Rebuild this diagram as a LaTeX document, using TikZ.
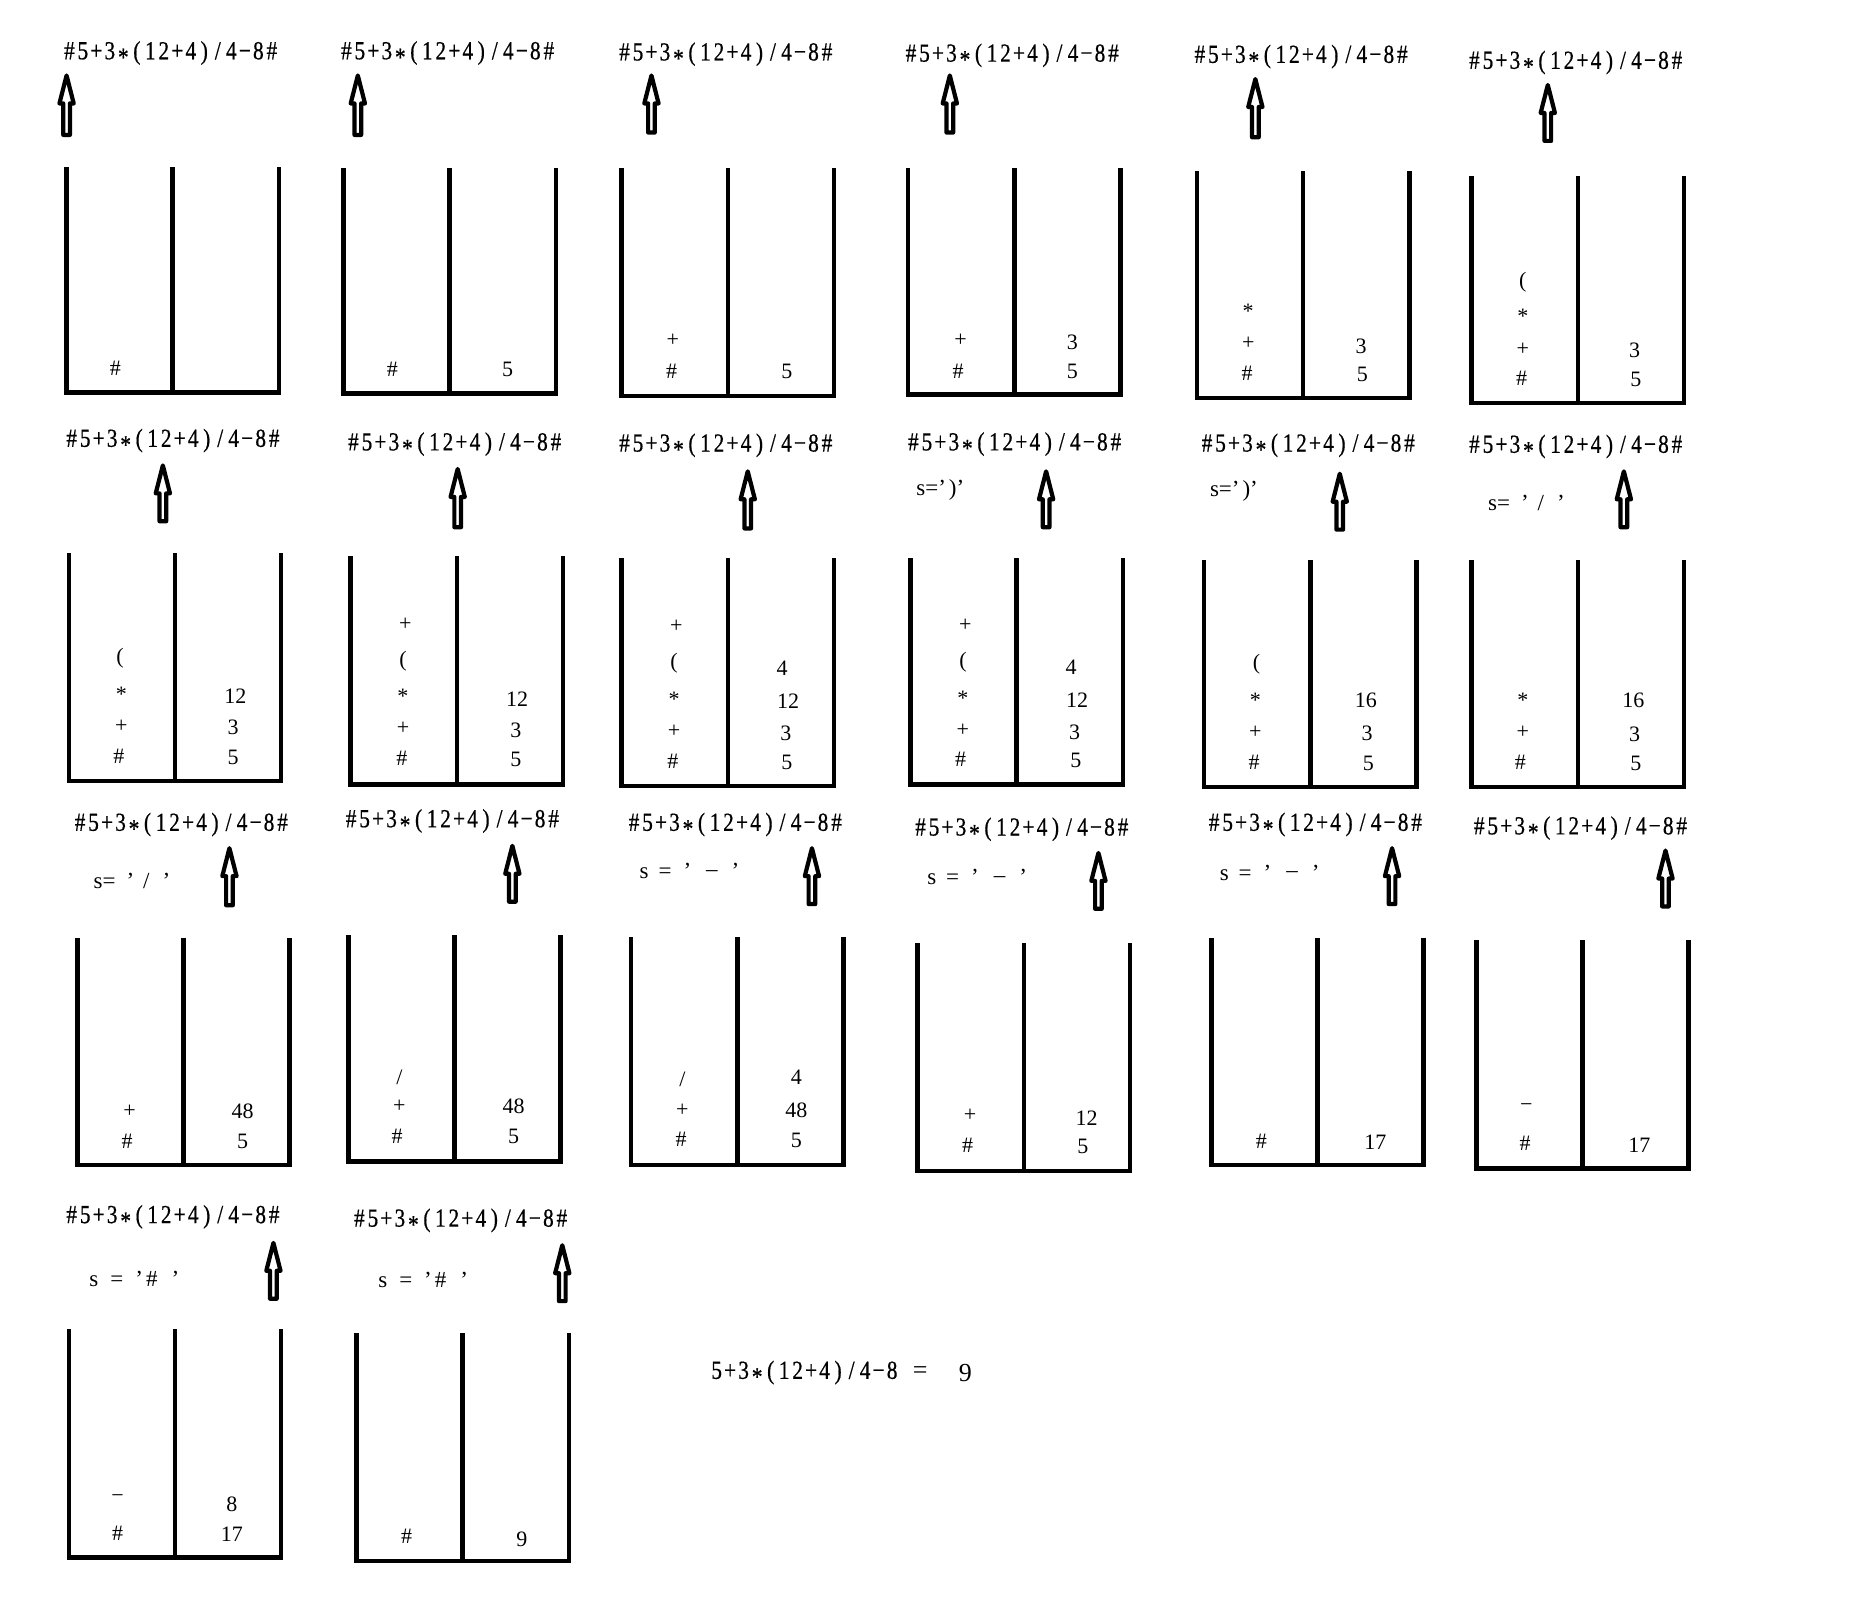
\documentclass[tikz,border=0pt]{standalone}
\usepackage{fontspec}
\setmainfont{Liberation Serif}
\newlength\chw \setlength\chw{13.5pt}
\newcommand\cb[1]{\makebox[\chw]{\scalebox{0.82}[1]{#1}}}
\newcommand\myast{\raisebox{-0.25em}{*}}
\newcommand\mymin{−}
\newcommand\myexpr{\addfontfeature{FakeBold=0.6}\cb{\#}\cb{5}\cb{+}\cb{3}\cb{\myast}\cb{(}\cb{1}\cb{2}\cb{+}\cb{4}\cb{)}\cb{/}\cb{4}\cb{\mymin}\cb{8}\cb{\#}}
\newcommand\myres{\addfontfeature{FakeBold=0.6}\cb{5}\cb{+}\cb{3}\cb{\myast}\cb{(}\cb{1}\cb{2}\cb{+}\cb{4}\cb{)}\cb{/}\cb{4}\cb{\mymin}\cb{8}}
\newcommand\lparen{s=’\hspace{3pt})’}
\newcommand\lslash{s=\hspace{11pt}’\hspace{9pt}/\hspace{13pt}’}
\newcommand\lminus{s\hspace{10pt}=\hspace{12pt}’\hspace{15pt}\raisebox{0.12em}{–}\hspace{14pt}’}
\newcommand\lhash{s\hspace{12pt}=\hspace{12pt}’\hspace{3pt}\#\hspace{14pt}’}
\newcounter{itmc}
\newcounter{pnl}
\tikzset{
  wall/.style={line width=4.5pt, line cap=rect},
  exprtxt/.style={font=\fontsize{26}{26}\selectfont, inner sep=0pt},
  item/.style={font=\fontsize{22}{22}\selectfont, inner sep=0pt},
  slabel/.style={font=\fontsize{23}{23}\selectfont, inner sep=0pt},
  ptr/.style={line width=4.2pt, fill=white, line join=round},
}
% panel: xL, top, bottom, expr y
\newcommand\drawpanel[4]{%
  \stepcounter{pnl}%
  \draw[wall] (#1,#2) -- (#1,#3) -- (#1+178.5,#3) -- (#1+178.5,#2);
  \draw[wall] (#1+89.25,#2) -- (#1+89.25,#3);
  \node[exprtxt] (e\thepnl) at (#1+87.5,#4) {\myexpr};
}
% arrow: x, tip y, bottom y
\newcommand\ptrarrow[3]{%
  \draw[ptr] (#1,#2+1.5) -- (#1+6,#2+25) -- (#1+2.8,#2+25) -- (#1+2.8,#3-1.5) -- (#1-2.8,#3-1.5) -- (#1-2.8,#2+25) -- (#1-6,#2+25) -- cycle;
}
\newcommand\stkitem[3]{\stepcounter{itmc}\node[item] (i\theitmc) at (#1,#2) {#3};}
\newcommand\slab[3]{\stepcounter{itmc}\node[slabel] (s\theitmc) at (#1,#2) {#3};}
\begin{document}
\begin{tikzpicture}[x=1.18878pt, y=-1.18878pt]
\useasboundingbox (0,0) rectangle (1568,1349);
% ---------- Row 1
\drawpanel{56}{142}{330}{45}
\ptrarrow{56}{62}{115}
\stkitem{97}{310}{\#}

\drawpanel{289}{143}{331}{45}
\ptrarrow{301}{62}{115}
\stkitem{330}{311}{\#}
\stkitem{427}{311}{5}

\drawpanel{523}{143}{333}{46}
\ptrarrow{548}{62}{113}
\stkitem{566}{286}{+}
\stkitem{565}{312}{\#}
\stkitem{662}{312}{5}

\drawpanel{764}{143}{332}{47}
\ptrarrow{799}{62}{113}
\stkitem{808}{286}{+}
\stkitem{806}{312}{\#}
\stkitem{902}{288}{3}
\stkitem{902}{312}{5}

\drawpanel{1007}{146}{335}{48}
\ptrarrow{1056}{65}{117}
\stkitem{1050}{262}{\myast}
\stkitem{1050}{289}{+}
\stkitem{1049}{314}{\#}
\stkitem{1145}{291}{3}
\stkitem{1146}{315}{5}

\drawpanel{1238}{150}{339}{53}
\ptrarrow{1302}{70}{120}
\stkitem{1281}{237}{(}
\stkitem{1281}{266}{\myast}
\stkitem{1281}{294}{+}
\stkitem{1280}{318}{\#}
\stkitem{1375}{295}{3}
\stkitem{1376}{319}{5}

% ---------- Row 2
\drawpanel{58}{467}{657}{371}
\ptrarrow{137}{390}{440}
\stkitem{101}{554}{(}
\stkitem{102}{584}{\myast}
\stkitem{102}{611}{+}
\stkitem{100}{636}{\#}
\stkitem{198}{586}{12}
\stkitem{196}{612}{3}
\stkitem{196}{637}{5}

\drawpanel{295}{470}{660}{374}
\ptrarrow{385}{393}{445}
\stkitem{341}{525}{+}
\stkitem{339}{556}{(}
\stkitem{339}{586}{\myast}
\stkitem{339}{613}{+}
\stkitem{338}{638}{\#}
\stkitem{435}{588}{12}
\stkitem{434}{614}{3}
\stkitem{434}{639}{5}

\drawpanel{523}{471}{661}{375}
\ptrarrow{629}{395}{446}
\stkitem{569}{527}{+}
\stkitem{567}{558}{(}
\stkitem{567}{588}{\myast}
\stkitem{567}{615}{+}
\stkitem{566}{640}{\#}
\stkitem{658}{562}{4}
\stkitem{663}{590}{12}
\stkitem{661}{617}{3}
\stkitem{662}{641}{5}

\drawpanel{766}{471}{660}{374}
\slab{791}{412}{\lparen}
\ptrarrow{880}{395}{445}
\stkitem{812}{526}{+}
\stkitem{810}{557}{(}
\stkitem{810}{587}{\myast}
\stkitem{810}{614}{+}
\stkitem{808}{639}{\#}
\stkitem{901}{561}{4}
\stkitem{906}{589}{12}
\stkitem{904}{616}{3}
\stkitem{905}{640}{5}

\drawpanel{1013}{473}{662}{375}
\slab{1038}{413}{\lparen}
\ptrarrow{1127}{397}{447}
\stkitem{1057}{559}{(}
\stkitem{1056}{589}{\myast}
\stkitem{1056}{616}{+}
\stkitem{1055}{641}{\#}
\stkitem{1149}{589}{16}
\stkitem{1150}{617}{3}
\stkitem{1151}{642}{5}

\drawpanel{1238}{473}{662}{376}
\slab{1284}{423}{\lslash}
\ptrarrow{1366}{395}{445}
\stkitem{1281}{589}{\myast}
\stkitem{1281}{616}{+}
\stkitem{1279}{641}{\#}
\stkitem{1374}{589}{16}
\stkitem{1375}{618}{3}
\stkitem{1376}{642}{5}

% ---------- Row 3
\drawpanel{65}{791}{980}{694}
\slab{111}{741}{\lslash}
\ptrarrow{193}{712}{763}
\stkitem{109}{935}{+}
\stkitem{107}{960}{\#}
\stkitem{204}{935}{48}
\stkitem{204}{960}{5}

\drawpanel{293}{788}{977}{691}
\ptrarrow{431}{710}{760}
\stkitem{336}{906}{/}
\stkitem{336}{931}{+}
\stkitem{334}{956}{\#}
\stkitem{432}{931}{48}
\stkitem{432}{956}{5}

\drawpanel{531}{790}{980}{694}
\slab{580}{733}{\lminus}
\ptrarrow{683}{712}{762}
\stkitem{574}{908}{/}
\stkitem{574}{934}{+}
\stkitem{573}{958}{\#}
\stkitem{670}{906}{4}
\stkitem{670}{934}{48}
\stkitem{670}{959}{5}

\drawpanel{772}{795}{985}{698}
\slab{822}{738}{\lminus}
\ptrarrow{924}{716}{766}
\stkitem{816}{938}{+}
\stkitem{814}{963}{\#}
\stkitem{914}{941}{12}
\stkitem{911}{964}{5}

\drawpanel{1019}{791}{980}{694}
\slab{1068}{734}{\lminus}
\ptrarrow{1171}{712}{762}
\stkitem{1061}{960}{\#}
\stkitem{1157}{961}{17}

\drawpanel{1242}{793}{983}{697}
\ptrarrow{1401}{714}{764}
\stkitem{1284}{932}{\mymin}
\stkitem{1283}{962}{\#}
\stkitem{1379}{963}{17}

% ---------- Row 4
\drawpanel{58}{1120}{1310}{1024}
\slab{113}{1076}{\lhash}
\ptrarrow{230}{1044}{1094}
\stkitem{99}{1261}{\mymin}
\stkitem{99}{1290}{\#}
\stkitem{195}{1265}{8}
\stkitem{195}{1291}{17}

\drawpanel{300}{1123}{1313}{1027}
\slab{356}{1077}{\lhash}
\ptrarrow{473}{1046}{1096}
\stkitem{342}{1292}{\#}
\stkitem{439}{1295}{9}

% ---------- Result
\node[exprtxt, anchor=west] (res) at (597,1155) {\myres};
\node[exprtxt] (req) at (774,1155) {=};
\node[exprtxt] (rval) at (812,1155) {9};
\end{tikzpicture}
\end{document}
